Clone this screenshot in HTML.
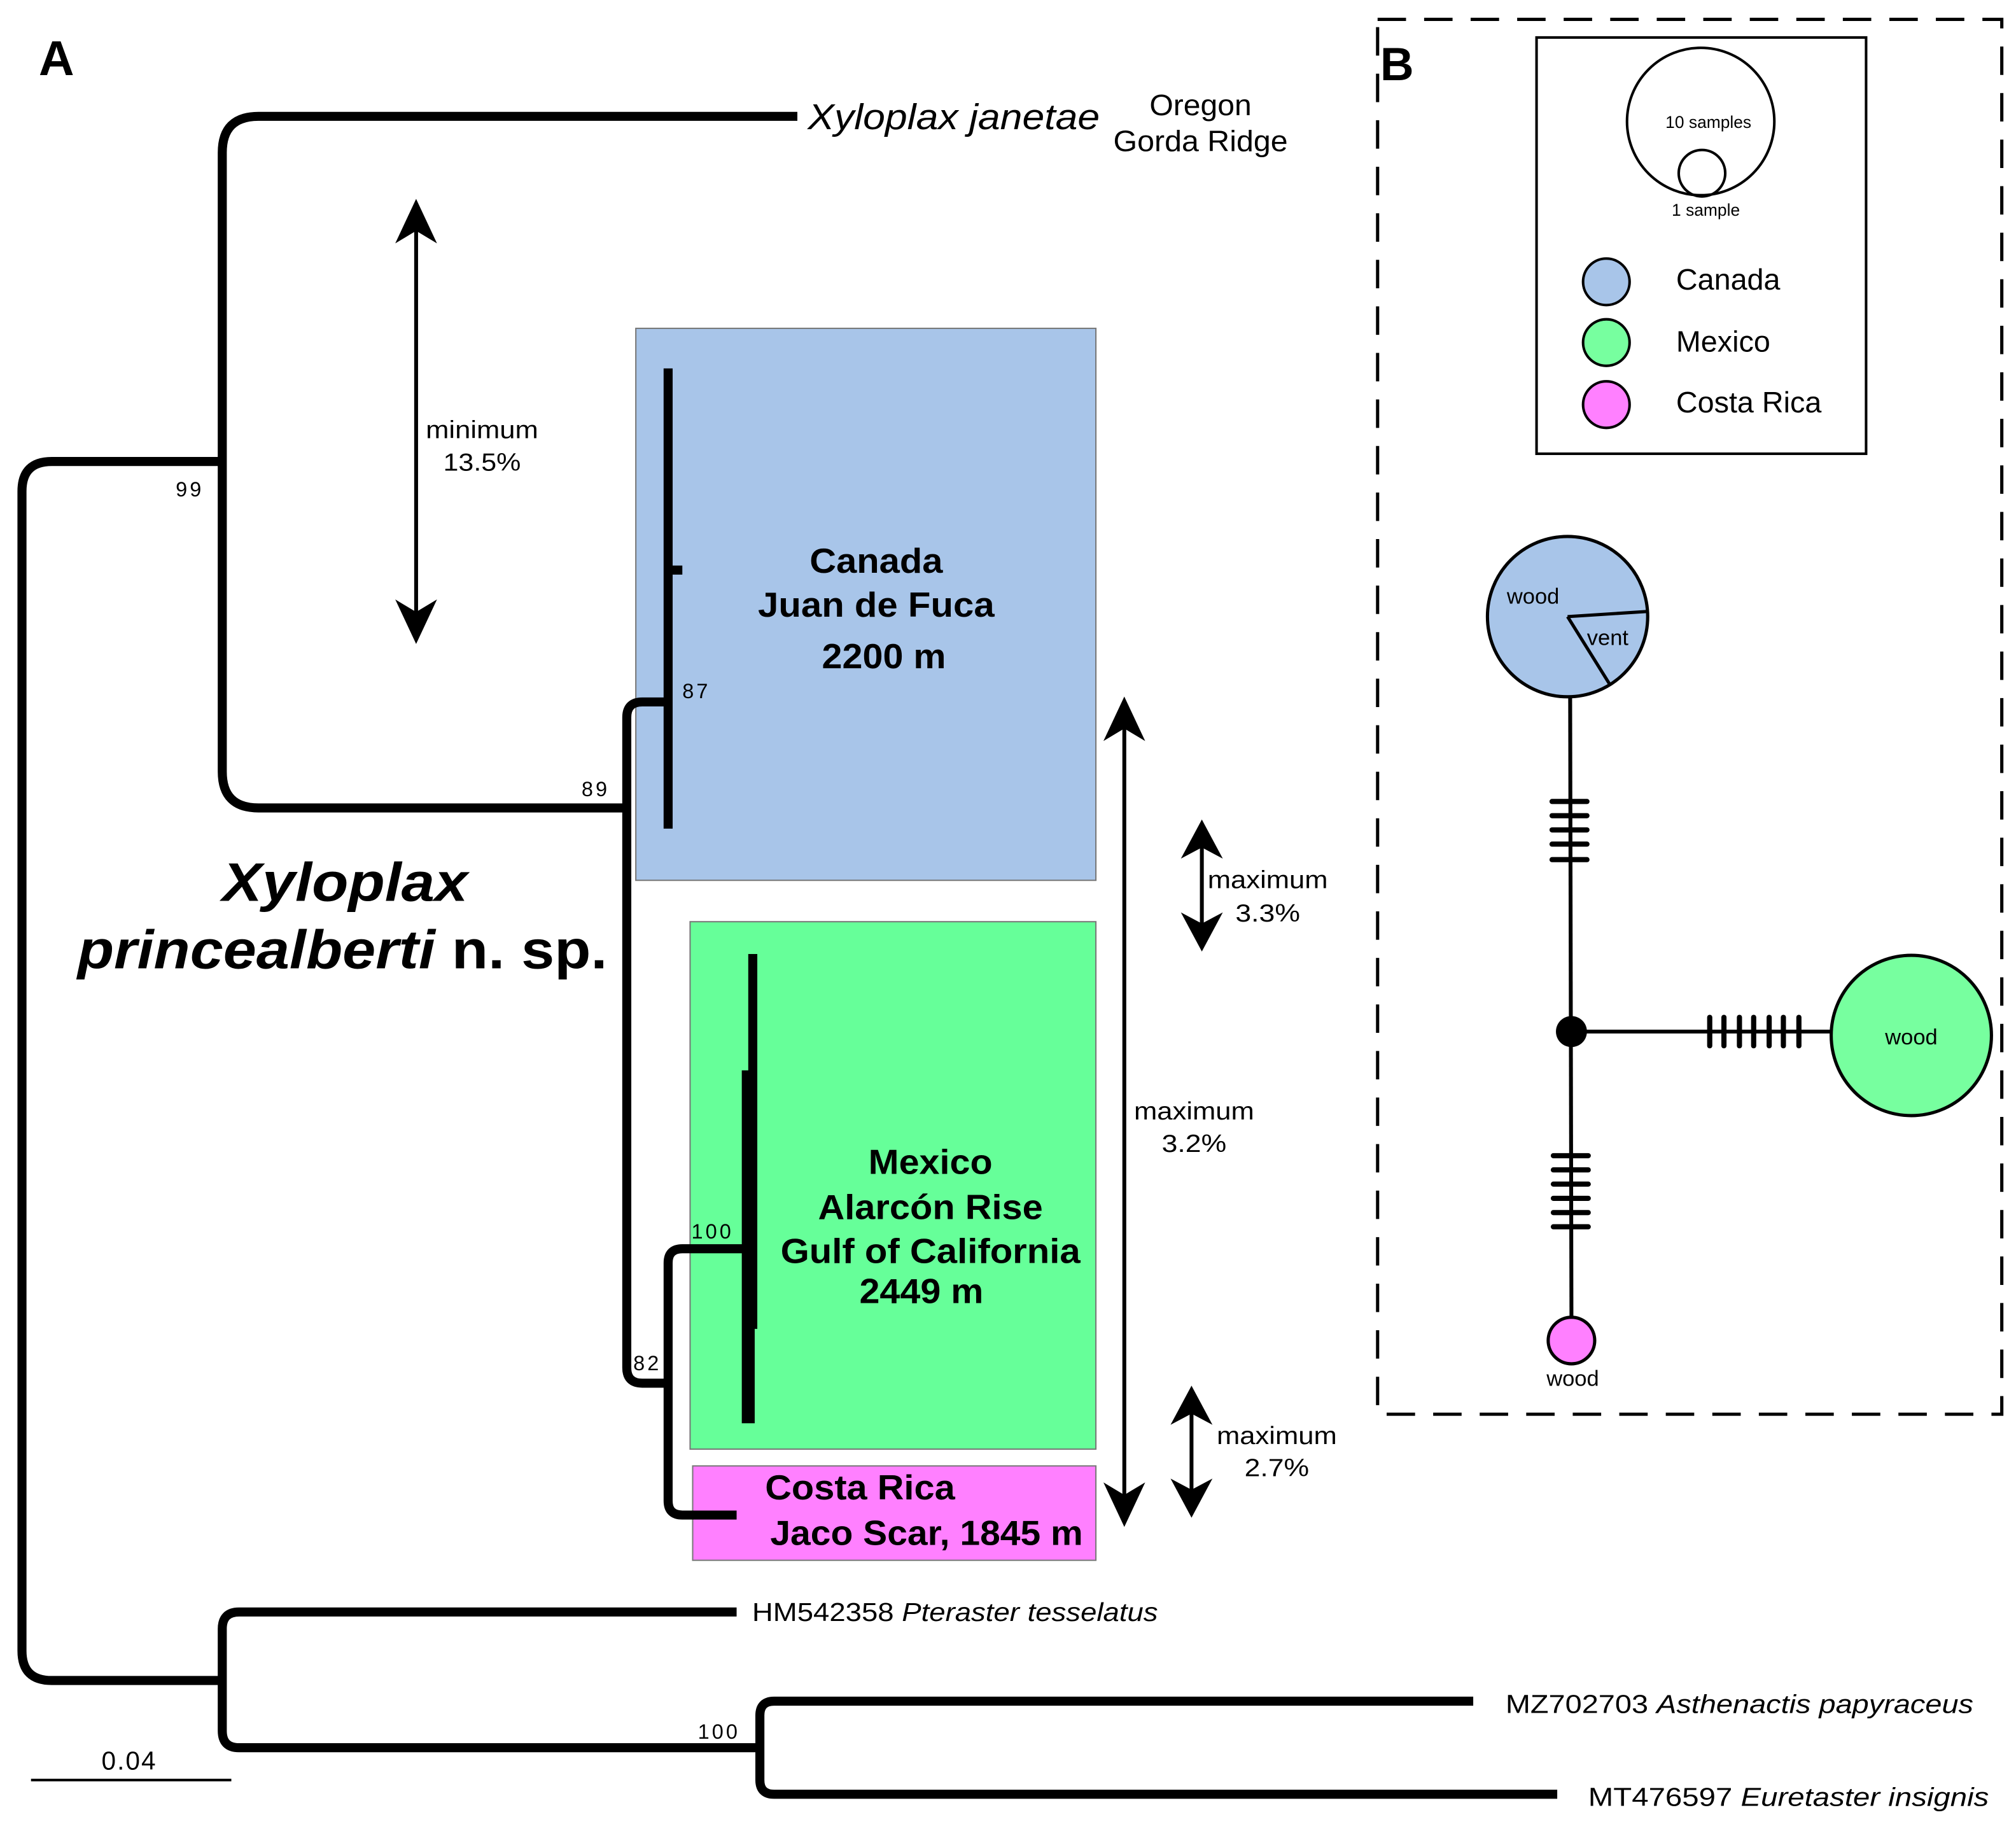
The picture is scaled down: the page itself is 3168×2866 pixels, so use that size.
<!DOCTYPE html>
<html><head><meta charset="utf-8"><style>
html,body{margin:0;padding:0;background:#fff;}
svg{display:block;}
text{font-family:"Liberation Sans",sans-serif;}
</style></head><body>
<svg width="3168" height="2866" viewBox="0 0 1560 1411" preserveAspectRatio="none" xmlns="http://www.w3.org/2000/svg">
<rect width="1560" height="1411" fill="#fff"/>
<rect x="492" y="254" width="356" height="427" fill="#a8c5e9" stroke="#777" stroke-width="1"/>
<rect x="534" y="713" width="314" height="408" fill="#66ff99" stroke="#777" stroke-width="1"/>
<rect x="536" y="1134" width="312" height="73" fill="#ff80ff" stroke="#777" stroke-width="1"/>

<g fill="none" stroke="#000" stroke-width="7" stroke-linejoin="round">
<path d="M172,357 H40 Q17,357 17,380 V1277 Q17,1300 40,1300 H172"/>
<path d="M617,90 H200 Q172,90 172,118 V597 Q172,625 200,625 H485"/>
<path d="M517,543 H497 Q485,543 485,555 V1058 Q485,1070 497,1070 H517"/>
<path d="M517,285 V641"/>
<path d="M517,441 H528"/>
<path d="M578,966 H528 Q517,966 517,977 V1161 Q517,1172 528,1172 H570"/>
<path d="M570,1247 H185 Q172,1247 172,1260 V1339 Q172,1352 185,1352 H588"/>
<path d="M1140,1316 H599 Q588,1316 588,1327 V1377 Q588,1388 599,1388 H1205"/>
</g>
<rect x="579" y="738" width="7" height="290" fill="#000"/>
<rect x="574" y="828" width="10" height="273" fill="#000"/>
<line x1="24" y1="1377" x2="179" y2="1377" stroke="#000" stroke-width="2"/>

<g stroke="#000" stroke-width="3" fill="#000">
<line x1="322" y1="170" x2="322" y2="482"/>
<path d="M322,155 L307,187 L322,178 L337,187 Z" stroke-width="1"/>
<path d="M322,497 L307,465 L322,474 L337,465 Z" stroke-width="1"/>
<line x1="870" y1="555" x2="870" y2="1165"/>
<path d="M870,540 L855,572 L870,563 L885,572 Z" stroke-width="1"/>
<path d="M870,1180 L855,1148 L870,1157 L885,1148 Z" stroke-width="1"/>
<line x1="930" y1="648" x2="930" y2="722"/>
<path d="M930,635 L915,663 L930,655 L945,663 Z" stroke-width="1"/>
<path d="M930,735 L915,707 L930,715 L945,707 Z" stroke-width="1"/>
<line x1="922" y1="1086" x2="922" y2="1160"/>
<path d="M922,1073 L907,1101 L922,1093 L937,1101 Z" stroke-width="1"/>
<path d="M922,1173 L907,1145 L922,1153 L937,1145 Z" stroke-width="1"/>
</g>

<text x="30" y="58" font-size="38" font-weight="bold">A</text>
<text x="625" y="100" font-size="28" font-style="italic" textLength="226" lengthAdjust="spacingAndGlyphs">Xyloplax janetae</text>
<text x="929" y="89" font-size="23" text-anchor="middle" textLength="79" lengthAdjust="spacingAndGlyphs">Oregon</text>
<text x="929" y="117" font-size="23" text-anchor="middle" textLength="135" lengthAdjust="spacingAndGlyphs">Gorda Ridge</text>
<text x="373" y="339" font-size="19" text-anchor="middle" textLength="87" lengthAdjust="spacingAndGlyphs">minimum</text>
<text x="373" y="364" font-size="19" text-anchor="middle" textLength="60" lengthAdjust="spacingAndGlyphs">13.5%</text>
<text x="136" y="384" font-size="16" letter-spacing="2">99</text>
<text x="450" y="616" font-size="16" letter-spacing="2">89</text>
<text x="528" y="540" font-size="16" letter-spacing="2">87</text>
<text x="535" y="958" font-size="16" letter-spacing="2">100</text>
<text x="490" y="1060" font-size="16" letter-spacing="2">82</text>
<text x="540" y="1345" font-size="16" letter-spacing="2">100</text>
<text x="678" y="443" font-size="27" font-weight="bold" text-anchor="middle" textLength="103" lengthAdjust="spacingAndGlyphs">Canada</text>
<text x="678" y="477" font-size="27" font-weight="bold" text-anchor="middle" textLength="183" lengthAdjust="spacingAndGlyphs">Juan de Fuca</text>
<text x="684" y="517" font-size="27" font-weight="bold" text-anchor="middle" textLength="96" lengthAdjust="spacingAndGlyphs">2200 m</text>
<text x="720" y="908" font-size="27" font-weight="bold" text-anchor="middle" textLength="96" lengthAdjust="spacingAndGlyphs">Mexico</text>
<text x="720" y="943" font-size="27" font-weight="bold" text-anchor="middle" textLength="174" lengthAdjust="spacingAndGlyphs">Alarcón Rise</text>
<text x="720" y="977" font-size="27" font-weight="bold" text-anchor="middle" textLength="232" lengthAdjust="spacingAndGlyphs">Gulf of California</text>
<text x="713" y="1008" font-size="27" font-weight="bold" text-anchor="middle" textLength="96" lengthAdjust="spacingAndGlyphs">2449 m</text>
<text x="592" y="1160" font-size="27" font-weight="bold" textLength="147" lengthAdjust="spacingAndGlyphs">Costa Rica</text>
<text x="596" y="1195" font-size="27" font-weight="bold" textLength="242" lengthAdjust="spacingAndGlyphs">Jaco Scar, 1845 m</text>
<text x="267" y="697" font-size="42" font-weight="bold" font-style="italic" text-anchor="middle" textLength="190" lengthAdjust="spacingAndGlyphs">Xyloplax</text>
<text x="60" y="749" font-size="42" font-weight="bold" textLength="410" lengthAdjust="spacingAndGlyphs"><tspan font-style="italic">princealberti</tspan> n. sp.</text>
<text x="981" y="687" font-size="19" text-anchor="middle" textLength="93" lengthAdjust="spacingAndGlyphs">maximum</text>
<text x="981" y="713" font-size="19" text-anchor="middle" textLength="50" lengthAdjust="spacingAndGlyphs">3.3%</text>
<text x="924" y="866" font-size="19" text-anchor="middle" textLength="93" lengthAdjust="spacingAndGlyphs">maximum</text>
<text x="924" y="891" font-size="19" text-anchor="middle" textLength="50" lengthAdjust="spacingAndGlyphs">3.2%</text>
<text x="988" y="1117" font-size="19" text-anchor="middle" textLength="93" lengthAdjust="spacingAndGlyphs">maximum</text>
<text x="988" y="1142" font-size="19" text-anchor="middle" textLength="50" lengthAdjust="spacingAndGlyphs">2.7%</text>
<text x="582" y="1254" font-size="20" textLength="314" lengthAdjust="spacingAndGlyphs">HM542358 <tspan font-style="italic">Pteraster tesselatus</tspan></text>
<text x="1165" y="1325" font-size="20" textLength="362" lengthAdjust="spacingAndGlyphs">MZ702703 <tspan font-style="italic">Asthenactis papyraceus</tspan></text>
<text x="1229" y="1397" font-size="20" textLength="310" lengthAdjust="spacingAndGlyphs">MT476597 <tspan font-style="italic">Euretaster insignis</tspan></text>
<text x="100" y="1369" font-size="20" text-anchor="middle" letter-spacing="1">0.04</text>

<rect x="1066" y="15" width="483" height="1079" fill="none" stroke="#000" stroke-width="2.5" stroke-dasharray="22,14"/>
<text x="1068" y="62" font-size="36" font-weight="bold">B</text>
<rect x="1189" y="29" width="255" height="322" fill="none" stroke="#000" stroke-width="2"/>
<circle cx="1316" cy="94" r="57" fill="none" stroke="#000" stroke-width="2"/>
<circle cx="1317" cy="134" r="18" fill="none" stroke="#000" stroke-width="2"/>
<text x="1322" y="99" font-size="13" text-anchor="middle">10 samples</text>
<text x="1320" y="167" font-size="13" text-anchor="middle">1 sample</text>
<circle cx="1243" cy="218" r="18" fill="#a8c5e9" stroke="#000" stroke-width="2"/>
<circle cx="1243" cy="265" r="18" fill="#77ff9f" stroke="#000" stroke-width="2"/>
<circle cx="1243" cy="313" r="18" fill="#ff80ff" stroke="#000" stroke-width="2"/>
<text x="1297" y="224" font-size="23">Canada</text>
<text x="1297" y="272" font-size="23">Mexico</text>
<text x="1297" y="319" font-size="23">Costa Rica</text>

<g stroke="#000" stroke-width="3" fill="none">
<line x1="1215" y1="539" x2="1216" y2="1020"/>
<line x1="1216" y1="798" x2="1418" y2="798"/>
<g stroke-width="4" stroke-linecap="round">
<line x1="1201" y1="620" x2="1228" y2="620"/><line x1="1201" y1="631" x2="1228" y2="631"/><line x1="1201" y1="642" x2="1228" y2="642"/><line x1="1201" y1="653" x2="1228" y2="653"/><line x1="1201" y1="665" x2="1228" y2="665"/>
<line x1="1202" y1="894" x2="1229" y2="894"/><line x1="1202" y1="905" x2="1229" y2="905"/><line x1="1202" y1="916" x2="1229" y2="916"/><line x1="1202" y1="927" x2="1229" y2="927"/><line x1="1202" y1="938" x2="1229" y2="938"/><line x1="1202" y1="949" x2="1229" y2="949"/>
<line x1="1323" y1="787" x2="1323" y2="809"/><line x1="1334" y1="787" x2="1334" y2="809"/><line x1="1346" y1="787" x2="1346" y2="809"/><line x1="1357" y1="787" x2="1357" y2="809"/><line x1="1369" y1="787" x2="1369" y2="809"/><line x1="1380" y1="787" x2="1380" y2="809"/><line x1="1392" y1="787" x2="1392" y2="809"/>
</g>
</g>
<circle cx="1216" cy="798" r="12" fill="#000"/>
<circle cx="1213" cy="477" r="62" fill="#a8c5e9" stroke="#000" stroke-width="2.5"/>
<path d="M1213,477 L1275,473 M1213,477 L1246,530" stroke="#000" stroke-width="2.5" fill="none"/>
<text x="1166" y="467" font-size="17">wood</text>
<text x="1228" y="499" font-size="17">vent</text>
<circle cx="1479" cy="801" r="62" fill="#77ff9f" stroke="#000" stroke-width="2.5"/>
<text x="1479" y="808" font-size="17" text-anchor="middle">wood</text>
<circle cx="1216" cy="1037" r="18" fill="#ff80ff" stroke="#000" stroke-width="2.5"/>
<text x="1217" y="1072" font-size="17" text-anchor="middle">wood</text>
</svg>
</body></html>
